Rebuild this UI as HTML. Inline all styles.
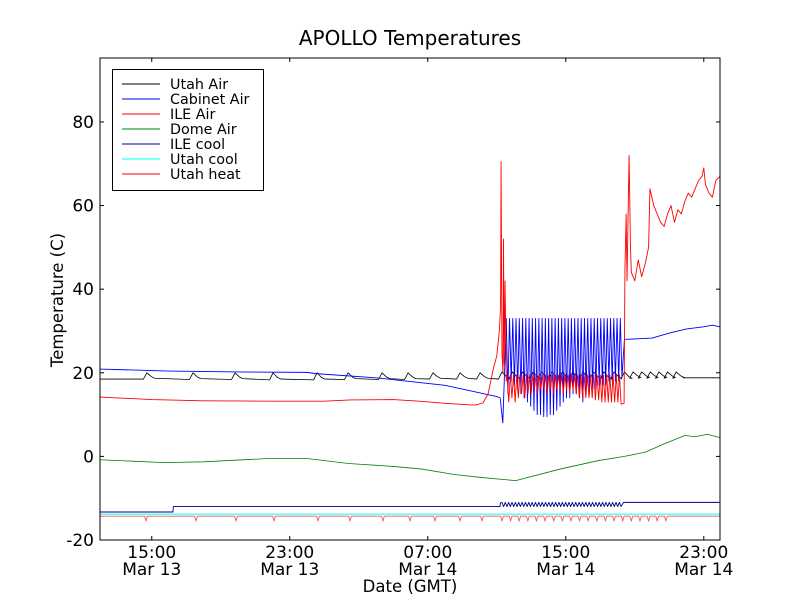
<!DOCTYPE html>
<html><head><meta charset="utf-8"><style>
body{margin:0;background:#fff;}
svg text{font-family:"DejaVu Sans","Liberation Sans",sans-serif;fill:#000;}
</style></head><body>
<svg id="chart" width="800" height="600" viewBox="0 0 800 600" xmlns="http://www.w3.org/2000/svg">
<rect width="800" height="600" fill="#fff"/>
<text x="410" y="45" font-size="20" text-anchor="middle">APOLLO Temperatures</text>
<text x="63" y="300" font-size="16.5" text-anchor="middle" transform="rotate(-90 63 300)">Temperature (C)</text>
<text x="410" y="592" font-size="16.5" text-anchor="middle">Date (GMT)</text>
<g id="series"></g>
<g id="axes"></g>
<g id="legend"></g>
</svg>
<script>
// ---- data (hours since Mar 13 12:00 GMT, temperatures in C) ----
const yTicks = [-20, 0, 20, 40, 60, 80];
const xTickHours = [3, 11, 19, 27, 35];
const xTickTimes = ["15:00", "23:00", "07:00", "15:00", "23:00"];
const xTickDates = ["Mar 13", "Mar 13", "Mar 14", "Mar 14", "Mar 14"];
const seriesNames = ["Utah Air", "Cabinet Air", "ILE Air", "Dome Air", "ILE cool", "Utah cool", "Utah heat"];

const utahAirBumpTimes = [2.72,5.39,7.83,10.03,12.58,14.38,16.35,17.86,19.3,20.87,22.03,23.3,23.9,24.5,25.1,25.6,26.2,26.8,27.4,28.0,28.6,29.2,29.8,30.4,30.9,31.4,31.9,32.4,32.9,33.4];
const utahAirBase = [18.5,18.4,18.4,18.3,18.3,18.4,18.4,18.4,18.5,18.5,18.5,18.5,18.5,18.5,18.5,18.5,18.5,18.5,18.5,18.5,18.5,18.5,18.5,18.5,18.7,18.7,18.7,18.7,18.7,18.7];
const utahAirPeak = [20,20,20,20,20,20,20,20,20,20,20,20.2,20.2,20.2,20.2,20.2,20.2,20.2,20.2,20.2,20.2,20.2,20.2,20.2,20.2,20.2,20.2,20.2,20.2,20.2];
const utahAirEnd = 18.8;

const cabinetPreT = [0,4,8,12,12.5,16,20,23.0,23.2,23.35,23.45];
const cabinetPreV = [20.9,20.4,20.2,20.1,19.8,18.8,17.0,14.3,14.0,8,20];
const cabinetOscHigh = 33;
const cabinetOscLows = [15,18,17,16,15,14,13,12,11,10,10,9.5,9.5,10,10,11,12,13,14,14,15,15,14,13,15,15,16,16,17,17,17,18,18,18,18,19];
const cabinetPostT = [30.4,30.5,32,33,34,35,35.5,35.94];
const cabinetPostV = [28,28,28.3,29.5,30.5,31,31.4,31];

const ilePreT = [0,3,6,10,13,14.5,17,18.5,20,21.5,21.8,22.2,22.5,22.8,23.0,23.15,23.22,23.25,23.3,23.36,23.39,23.43,23.48,23.55];
const ilePreV = [14.2,13.6,13.3,13.2,13.2,13.5,13.6,13.2,12.7,12.3,12.3,12.8,15,21,24,30,36,70.5,25,20,52,22,42,18];
const ileOscHigh = 19.5;
const ileOscLows = [13,14,13,14,15,14,15,15,16,15,16,16,15,16,15,16,16,15,16,15,16,15,14,14,14,14,14,13.5,13.5,13,13,13,13,13,13,12.5];
const ilePostT = [30.38,30.43,30.5,30.55,30.67,30.75,30.8,31.0,31.2,31.4,31.6,31.8,31.88,32.1,32.3,32.5,32.7,32.9,33.1,33.3,33.5,33.7,33.9,34.1,34.3,34.5,34.7,34.9,35.0,35.1,35.3,35.5,35.7,35.94];
const ilePostV = [12.7,45,58,42,72,50,44,42,47,43,46,50,64,60,58,56,55,58,60,56,59,58,61,63,62,64,66,67,69,65,63,62,66,67];

const domeT = [0,3.8,6,9.8,12,14.4,17,18.6,20.5,22,24.1,26.7,28.9,30.4,31.6,32.7,33.9,34.5,35.2,35.94];
const domeV = [-0.8,-1.5,-1.3,-0.5,-0.5,-1.7,-2.4,-3,-4.3,-5,-5.8,-3,-1,0,1,3,5,4.7,5.3,4.5];

const ileCoolT = [0,4.23,4.25,23.19,23.2];
const ileCoolV = [-13.3,-13.3,-12,-12,-11.2];
const ileCoolOscLow = -12;
const ileCoolOscHigh = -11;
const ileCoolEndV = -11;

const utahCoolV = -13.8;

const utahHeatBase = -14.3;
const utahHeatDipV = -15.5;
const utahHeatDips = [2.67,5.57,7.88,10.09,12.64,14.49,16.4,17.97,19.42,20.87,22.14,23.3,23.8,24.3,24.8,25.3,25.8,26.3,26.8,27.3,27.8,28.3,28.8,29.3,29.8,30.3,30.8,31.3,31.8,32.3,32.8];

// ---- scales ----
const X0 = 100, X1 = 720, Y0 = 58, Y1 = 540;
const H_MAX = 35.94, V_MIN = -20, V_MAX = 95.3;
function xs(h){ return X0 + h / H_MAX * (X1 - X0); }
function ys(v){ return Y1 - (v - V_MIN) / (V_MAX - V_MIN) * (Y1 - Y0); }
const NS = "http://www.w3.org/2000/svg";
const gS = document.getElementById('series');
const gA = document.getElementById('axes');
const gL = document.getElementById('legend');
function ptsStr(arr){ return arr.map(p => xs(p[0]).toFixed(2) + "," + ys(p[1]).toFixed(2)).join(" "); }
function addLine(arr, color, name, w){
  const pl = document.createElementNS(NS, 'polyline');
  pl.setAttribute('points', ptsStr(arr));
  pl.setAttribute('fill', 'none');
  pl.setAttribute('stroke', color);
  pl.setAttribute('stroke-width', w || 0.9);
  pl.setAttribute('stroke-linejoin', 'round');
  
  
  gS.appendChild(pl);
}
function zip(t, v){ return t.map((x, i) => [x, v[i]]); }
function osc(t0, t1, high, lows){
  const out = []; const n = lows.length; const dt = (t1 - t0) / n;
  for (let i = 0; i < n; i++){ out.push([t0 + i*dt, high]); out.push([t0 + (i+0.5)*dt, lows[i]]); }
  return out;
}

// Utah heat
(function(){
  const p = [[0, utahHeatBase]];
  utahHeatDips.forEach(t => { p.push([t-0.08, utahHeatBase]); p.push([t, utahHeatDipV]); p.push([t+0.08, utahHeatBase]); });
  p.push([H_MAX, utahHeatBase]);
  addLine(p, '#ff5555', 'utah-heat-line', 0.9);
})();
// Utah cool
addLine([[0, utahCoolV], [H_MAX, utahCoolV]], '#00ffff', 'utah-cool-line', 1);
// ILE cool
(function(){
  let p = zip(ileCoolT, ileCoolV);
  const lows = cabinetOscLows.map(() => ileCoolOscLow);
  p = p.concat(osc(23.3, 30.3, ileCoolOscHigh, lows));
  p.push([30.35, ileCoolEndV]); p.push([H_MAX, ileCoolEndV]);
  addLine(p, '#000080', 'ile-cool-line', 0.9);
})();
// Dome air
addLine(zip(domeT, domeV), '#008000', 'dome-air-line', 0.8);
// Utah Air
(function(){
  const p = [[0, utahAirBase[0]]];
  utahAirBumpTimes.forEach((t, i) => {
    p.push([t-0.2, utahAirBase[i]]); p.push([t, utahAirPeak[i]]);
    p.push([t+0.25, utahAirBase[i]+0.6]); p.push([t+0.45, utahAirBase[i]+0.2]);
  });
  p.push([33.8, utahAirEnd]); p.push([H_MAX, utahAirEnd]);
  addLine(p, '#000000', 'utah-air-line', 0.8);
})();
// Cabinet Air
(function(){
  let p = zip(cabinetPreT, cabinetPreV);
  p = p.concat(osc(23.55, 30.35, cabinetOscHigh, cabinetOscLows));
  p = p.concat(zip(cabinetPostT, cabinetPostV));
  addLine(p, '#0000ff', 'cabinet-air-line', 0.9);
})();
// ILE Air
(function(){
  let p = zip(ilePreT, ilePreV);
  p = p.concat(osc(23.6, 30.3, ileOscHigh, ileOscLows));
  p = p.concat(zip(ilePostT, ilePostV));
  addLine(p, '#ff0000', 'ile-air-line', 0.9);
})();

// ---- axes ----
function el(tag, attrs){ const e = document.createElementNS(NS, tag); for (const k in attrs) e.setAttribute(k, attrs[k]); return e; }
const frame = el('rect', {x: X0, y: Y0, width: X1-X0, height: Y1-Y0, fill: 'none', stroke: '#000', 'stroke-width': 1});


gA.appendChild(frame);
yTicks.forEach(v => {
  const y = ys(v);
  const t1 = el('line', {x1: X0, x2: X0+4, y1: y, y2: y, stroke: '#000'});
  
  
  gA.appendChild(t1);
  const t2 = el('line', {x1: X1-4, x2: X1, y1: y, y2: y, stroke: '#000'});
  
  
  gA.appendChild(t2);
  const tx = el('text', {x: X0-6, y: y+6, 'font-size': 17, 'text-anchor': 'end'});
  tx.textContent = v;
  
  
  gA.appendChild(tx);
});
xTickHours.forEach((h, i) => {
  const x = xs(h);
  const t1 = el('line', {x1: x, x2: x, y1: Y1, y2: Y1-4, stroke: '#000'});
  
  
  gA.appendChild(t1);
  const t2 = el('line', {x1: x, x2: x, y1: Y0, y2: Y0+4, stroke: '#000'});
  
  
  gA.appendChild(t2);
  const a = el('text', {x: x, y: 558, 'font-size': 17, 'text-anchor': 'middle'});
  a.textContent = xTickTimes[i];
  
  
  gA.appendChild(a);
  const b = el('text', {x: x, y: 575, 'font-size': 17, 'text-anchor': 'middle'});
  b.textContent = xTickDates[i];
  
  
  gA.appendChild(b);
});

// ---- legend ----
const legendColors = ['#000000', '#0000ff', '#ff0000', '#008000', '#000080', '#00ffff', '#ff0000'];
const lb = el('rect', {x: 112.5, y: 69.5, width: 151, height: 121, fill: '#fff', stroke: '#000', 'stroke-width': 1});


gL.appendChild(lb);
seriesNames.forEach((n, i) => {
  const y = 84 + i * 15;
  const ln = el('line', {x1: 122, x2: 160, y1: y, y2: y, stroke: legendColors[i], 'stroke-width': 1});
  
  
  gL.appendChild(ln);
  const tx = el('text', {x: 170, y: y+5, 'font-size': 14.3});
  tx.textContent = n;
  
  
  gL.appendChild(tx);
});
</script>
</body></html>
